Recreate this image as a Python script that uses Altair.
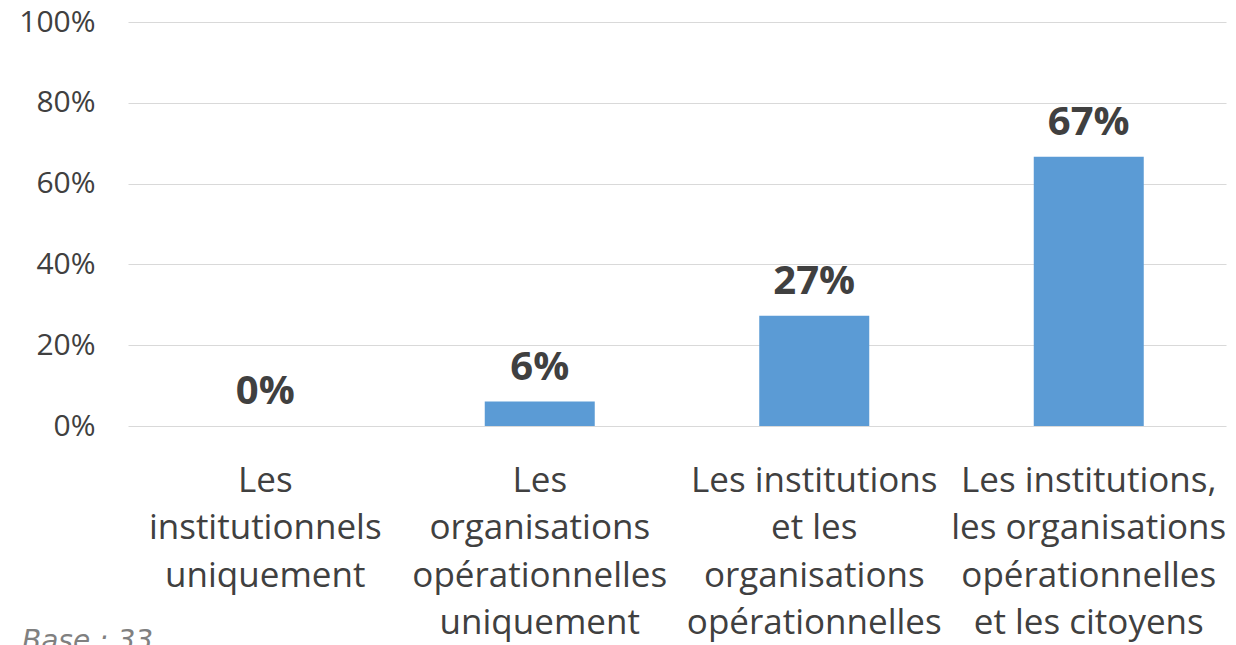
import altair as alt
import pandas as pd

categories = [
    ["Les", "institutionnels", "uniquement"],
    ["Les", "organisations", "opérationnelles", "uniquement"],
    ["Les institutions", "et les", "organisations", "opérationnelles"],
    ["Les institutions,", "les organisations", "opérationnelles", "et les citoyens"],
]
values = [0.0, 0.0606, 0.2727, 0.6667]
labels = ["0%", "6%", "27%", "67%"]
y_ticks = [0, 0.2, 0.4, 0.6, 0.8, 1.0]
base_note = "Base : 33"

df = pd.DataFrame({
    "cat": ["\n".join(c) for c in categories],
    "value": values,
    "label": labels,
})

TEXT = "#404040"
FONT = "Open Sans"

x = alt.X("cat:N", sort=None, title=None,
          scale=alt.Scale(paddingInner=0, paddingOuter=0),
          axis=alt.Axis(labelExpr="split(datum.label, '\\n')", labelAngle=0,
                        labelFontSize=35, labelFont=FONT, labelColor=TEXT,
                        labelLineHeight=47.5, labelBaseline="top", labelPadding=37,
                        domain=False, ticks=False, labelLimit=400))
y = alt.Y("value:Q", title=None,
          scale=alt.Scale(domain=[0, 1], nice=False),
          axis=alt.Axis(values=y_ticks, format=".0%", labelFontSize=30, labelFont=FONT,
                        labelColor=TEXT, labelPadding=33, domain=False, ticks=False,
                        grid=True, gridColor="#D9D9D9", gridWidth=1))

bars = alt.Chart(df).mark_bar(size=110, color="#5B9BD5").encode(x=x, y=y)
text = alt.Chart(df).mark_text(baseline="bottom", dy=-14, fontSize=40, fontWeight="bold",
                               font=FONT, color=TEXT).encode(x=x, y=y, text="label:N")
note = alt.Chart(pd.DataFrame({"t": [base_note]})).mark_text(
    align="left", baseline="top", fontSize=28, fontStyle="italic", font="DejaVu Sans",
    color="#808080").encode(x=alt.value(-106), y=alt.value(606), text="t:N")

chart = alt.layer(bars, text, note).properties(
    width=1098, height=404,
    padding={"left": 120, "top": 14, "right": 2, "bottom": 219},
    autosize=alt.AutoSizeParams(type="none"),
).configure(background="white").configure_view(stroke=None)

chart.save("out.html", embed_options={"renderer": "svg", "actions": False})
